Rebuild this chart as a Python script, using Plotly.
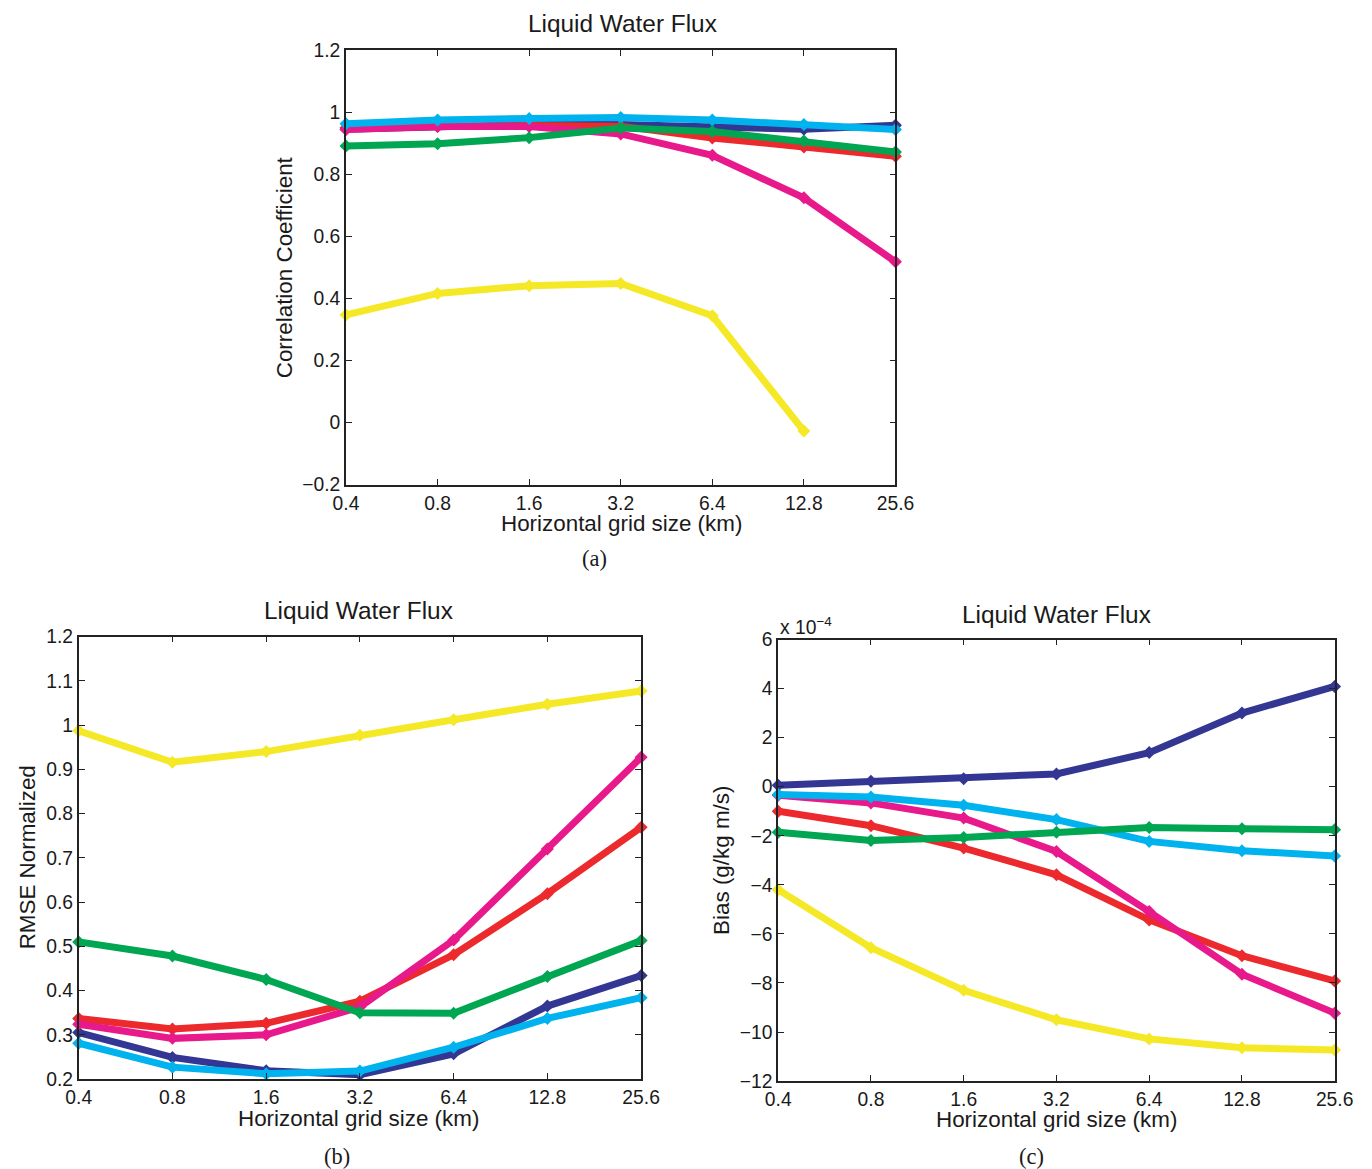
import math
import plotly.graph_objects as go

# Horizontal grid sizes (km) shared by all three panels
grid_km = [0.4, 0.8, 1.6, 3.2, 6.4, 12.8, 25.6]
grid_labels = ["0.4", "0.8", "1.6", "3.2", "6.4", "12.8", "25.6"]

# (a) correlation coefficient
corr_navy = [0.945, 0.955, 0.960, 0.960, 0.955, 0.945, 0.958]
corr_red = [0.950, 0.955, 0.957, 0.955, 0.917, 0.888, 0.858]
corr_pink = [0.944, 0.954, 0.954, 0.930, 0.861, 0.724, 0.518]
corr_cyan = [0.963, 0.975, 0.980, 0.983, 0.975, 0.960, 0.944]
corr_green = [0.891, 0.898, 0.918, 0.949, 0.938, 0.907, 0.872]
corr_yellow = [0.347, 0.416, 0.441, 0.448, 0.344, -0.027, None]

# (b) normalized RMSE
rmse_navy = [0.305, 0.249, 0.219, 0.210, 0.257, 0.365, 0.434]
rmse_red = [0.337, 0.313, 0.326, 0.376, 0.481, 0.619, 0.769]
rmse_pink = [0.324, 0.292, 0.300, 0.363, 0.514, 0.720, 0.927]
rmse_cyan = [0.281, 0.227, 0.212, 0.218, 0.272, 0.337, 0.384]
rmse_green = [0.510, 0.478, 0.425, 0.350, 0.349, 0.432, 0.513]
rmse_yellow = [0.987, 0.916, 0.940, 0.977, 1.012, 1.047, 1.077]

# (c) bias, in units of 1e-4 g/kg m/s
bias_navy = [0.06, 0.22, 0.32, 0.52, 1.39, 3.00, 4.09]
bias_red = [-1.00, -1.59, -2.50, -3.59, -5.43, -6.89, -7.92]
bias_pink = [-0.35, -0.66, -1.28, -2.64, -5.09, -7.64, -9.23]
bias_cyan = [-0.32, -0.42, -0.76, -1.34, -2.23, -2.61, -2.82]
bias_green = [-1.86, -2.19, -2.07, -1.86, -1.66, -1.71, -1.75]
bias_yellow = [-4.20, -6.56, -8.30, -9.50, -10.28, -10.64, -10.73]

NAVY = "#333793"
RED = "#EC2A2D"
PINK = "#E8198B"
CYAN = "#00B3EE"
GREEN = "#00A651"
YELLOW = "#F5E927"

# target canvas in screen pixels, and how the page maps figure pixels to it
PAGE_W, PAGE_H = 1372, 1169
SCALE = 0.983
PAD = 8
W = int(PAGE_W / SCALE) - 2 * PAD - 4
H = int(PAGE_H / SCALE) - 2 * PAD - 4
FONT = "Liberation Sans, Arial, Helvetica, sans-serif"
SERIF = "Liberation Serif, Times New Roman, serif"
AXIS_COLOR = "#222222"
TEXT_COLOR = "#1a1a1a"


def fig_px(p):
    return p / SCALE - PAD


def px_x(p):
    """Screen pixel column -> paper fraction."""
    return fig_px(p) / W


def px_y(p):
    """Screen pixel row -> paper fraction."""
    return 1 - fig_px(p) / H


def fs(size):
    return round(size / SCALE, 1)


fig = go.Figure()

panels = [
    # (xaxis id, yaxis id, series list, left, right, top, bottom screen px)
    ("x", "y", [(corr_navy, NAVY), (corr_red, RED), (corr_pink, PINK),
                (corr_cyan, CYAN), (corr_green, GREEN), (corr_yellow, YELLOW)],
     343, 896, 48, 483),
    ("x2", "y2", [(rmse_navy, NAVY), (rmse_red, RED), (rmse_pink, PINK),
                  (rmse_cyan, CYAN), (rmse_green, GREEN), (rmse_yellow, YELLOW)],
     74, 640, 635, 1078),
    ("x3", "y3", [(bias_navy, NAVY), (bias_red, RED), (bias_pink, PINK),
                  (bias_cyan, CYAN), (bias_green, GREEN), (bias_yellow, YELLOW)],
     778, 1338, 638, 1080),
]

for xa, ya, series, *_ in panels:
    for vals, col in series:
        fig.add_trace(go.Scatter(
            x=grid_km, y=vals, xaxis=xa, yaxis=ya, mode="lines+markers",
            line=dict(color=col, width=7),
            marker=dict(symbol="diamond", size=10, color=col),
            cliponaxis=False, showlegend=False, hoverinfo="skip",
            connectgaps=False,
        ))

y_ranges = [(-0.2, 1.2, 0.2), (0.2, 1.2, 0.1), (-12, 6, 2)]

layout = dict(
    width=W, height=H, margin=dict(l=0, r=0, t=0, b=0),
    paper_bgcolor="white", plot_bgcolor="white",
    font=dict(family=FONT, size=fs(19), color=TEXT_COLOR),
    showlegend=False,
)

for i, (xa, ya, _s, l, r, t, b) in enumerate(panels):
    xkey = "xaxis" if i == 0 else f"xaxis{i + 1}"
    ykey = "yaxis" if i == 0 else f"yaxis{i + 1}"
    lo, hi, dt = y_ranges[i]
    layout[xkey] = dict(
        domain=[px_x(l), px_x(r)], anchor=ya,
        type="log", range=[math.log10(grid_km[0]), math.log10(grid_km[-1])],
        tickvals=grid_km, ticktext=grid_labels,
        ticks="inside", ticklen=6, tickcolor=AXIS_COLOR, tickwidth=1,
        showline=True, linecolor=AXIS_COLOR, linewidth=1.6, mirror="ticks",
        showgrid=False, zeroline=False,
        tickfont=dict(size=fs(19), family=FONT, color=TEXT_COLOR), ticklabelstandoff=0,
    )
    layout[ykey] = dict(
        domain=[px_y(b), px_y(t)], anchor=xa,
        range=[lo, hi], tick0=0, dtick=dt,
        ticks="inside", ticklen=6, tickcolor=AXIS_COLOR, tickwidth=1,
        showline=True, linecolor=AXIS_COLOR, linewidth=1.6, mirror="ticks",
        showgrid=False, zeroline=False,
        tickfont=dict(size=fs(19), family=FONT, color=TEXT_COLOR), ticklabelstandoff=0,
    )

fig.update_layout(**layout)


def label(text, x, y, size=22, family=FONT, angle=0, xanchor="center", yanchor="middle"):
    fig.add_annotation(
        text=text, x=px_x(x), y=px_y(y), xref="paper", yref="paper",
        showarrow=False, textangle=angle, xanchor=xanchor, yanchor=yanchor,
        font=dict(size=fs(size), family=family, color=TEXT_COLOR),
    )


# panel titles
label("Liquid Water Flux", 621, 21, size=24)
label("Liquid Water Flux", 356, 609, size=24)
label("Liquid Water Flux", 1058, 613, size=24)

# axis titles
label("Horizontal grid size (km)", 620, 522)
label("Horizontal grid size (km)", 356, 1117)
label("Horizontal grid size (km)", 1058, 1118)
label("Correlation Coefficient", 281, 265, angle=-90)
label("RMSE Normalized", 22, 856, angle=-90)
label("Bias (g/kg m/s)", 721, 859, angle=-90)

# exponent of the bias axis
label("x 10<sup>\u22124</sup>", 778, 624, size=19, xanchor="left")

# sub-figure captions
label("(a)", 593, 557, size=22, family=SERIF)
label("(b)", 334, 1155, size=22, family=SERIF)
label("(c)", 1033, 1155, size=22, family=SERIF)

fig.write_html("out.html")
